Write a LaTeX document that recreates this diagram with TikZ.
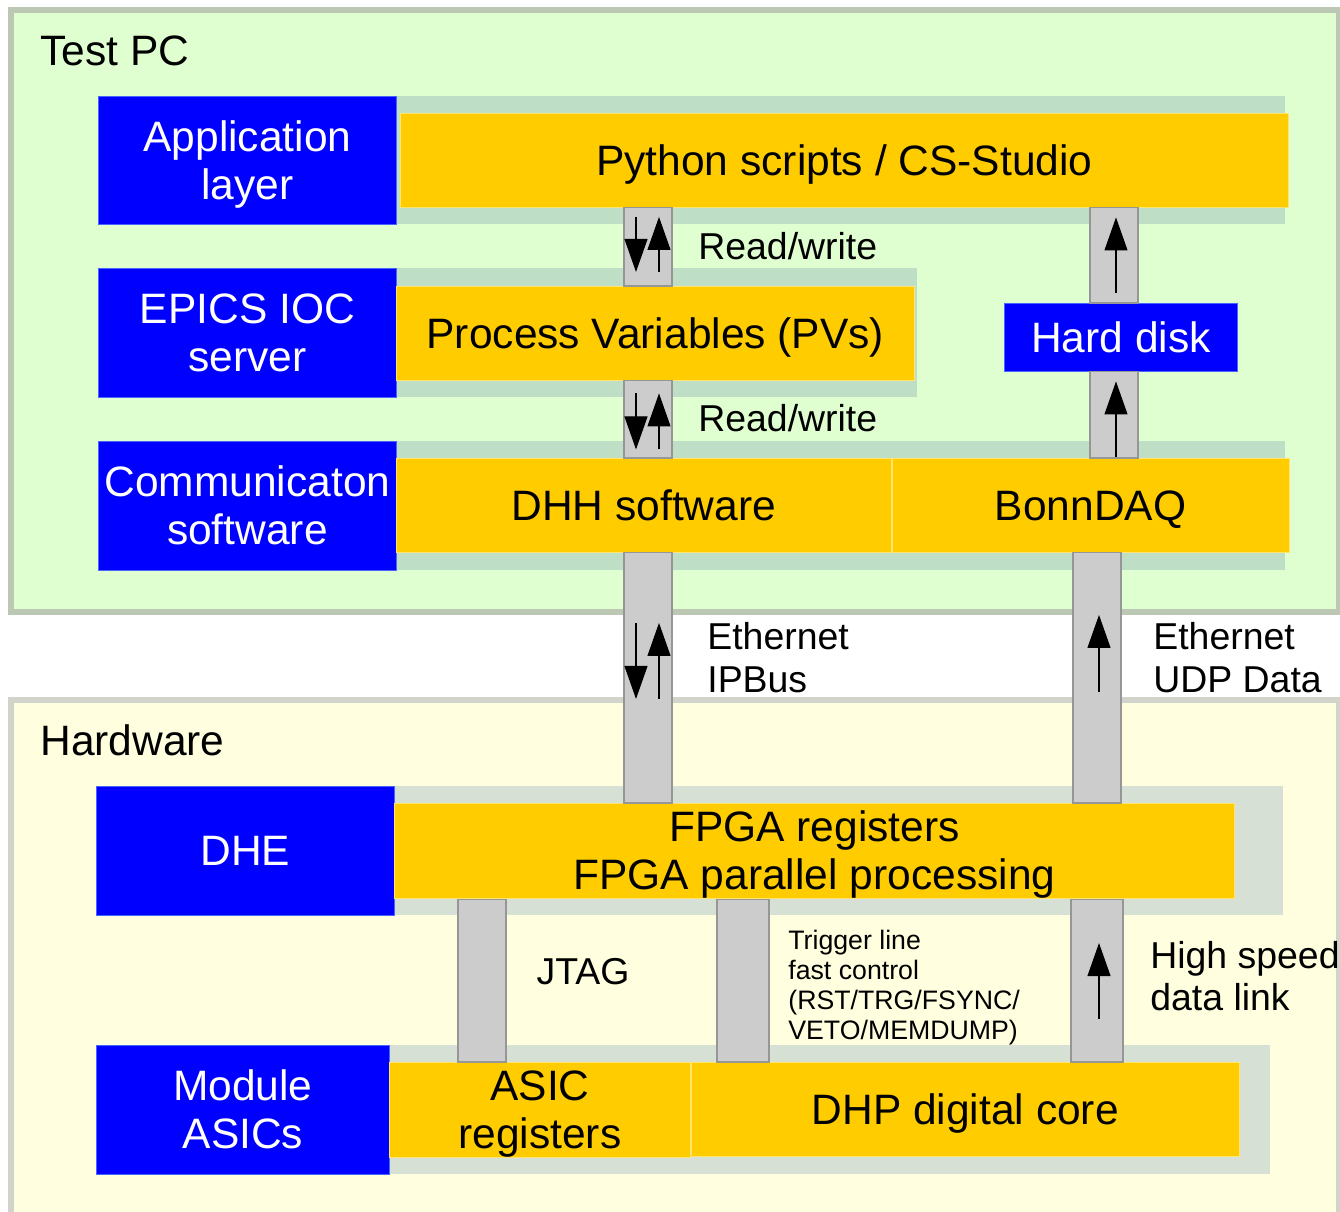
\documentclass[tikz,border=0pt]{standalone}
\usepackage{fontspec}
\setmainfont{Liberation Sans}
\usetikzlibrary{arrows.meta, calc, fit}
\definecolor{pcgreen}{RGB}{224,255,208}
\definecolor{pcborder}{RGB}{188,200,180}
\definecolor{pcband}{RGB}{190,222,198}
\definecolor{hwyellow}{RGB}{255,255,224}
\definecolor{hwborder}{RGB}{210,212,204}
\definecolor{hwband}{RGB}{215,224,213}
\definecolor{levelblue}{RGB}{0,0,255}
\definecolor{leveledge}{RGB}{70,100,255}
\definecolor{swyellow}{RGB}{255,204,0}
\definecolor{swedge}{RGB}{255,228,110}
\definecolor{busfill}{RGB}{204,204,204}
\definecolor{busedge}{RGB}{150,150,150}
\newcommand{\boxfont}{\fontsize{24.2}{27.2}\selectfont}
\newcommand{\notefont}{\fontsize{21.3}{24.2}\selectfont}
\newcommand{\tinyfont}{\fontsize{15.2}{17}\selectfont}
\newcommand{\linestrut}{\rule[-0.212em]{0pt}{1.117em}}

\begin{document}
\begin{tikzpicture}[x=0.02cm, y=-0.02cm,
  levelbox/.style={fill=levelblue, draw=leveledge, line width=0.5pt, text=white,
    font=\boxfont, align=center, inner sep=0pt, anchor=north west,
    execute at begin node=\linestrut, execute at end node=\linestrut},
  swbox/.style={fill=swyellow, draw=swedge, line width=0.5pt, font=\boxfont,
    align=center, inner sep=0pt, anchor=north west, minimum height=1.88cm,
    execute at begin node=\linestrut, execute at end node=\linestrut},
  busbar/.style={fill=busfill, draw=busedge, line width=0.6pt, inner sep=0pt},
  flowarrow/.style={-{Triangle[length=0.66cm, width=0.46cm]}, line width=0.6pt},
  paneltitle/.style={font=\boxfont, inner sep=0pt, anchor=base west},
  note/.style={font=\notefont, align=left, inner sep=0pt}]
\clip (0,0) rectangle (1340,1212);

% ---- panels ----
\filldraw[fill=pcgreen, draw=pcborder, line width=0.12cm] (11,10) rectangle (1339,612);
\filldraw[fill=hwyellow, draw=hwborder, line width=0.12cm] (11,700) rectangle (1339,1250);

% ---- Test PC ----
\node[paneltitle] (pc) at (40,66) {Test PC};
\node[levelbox, minimum width=5.96cm, minimum height=2.56cm] (app) at (98,96) {\linestrut Application\\layer};
\fill[pcband] (app.north east) rectangle (1285,224);
\node[swbox, minimum width=17.76cm] (py) at (400,113) {Python scripts / CS-Studio};

\node[levelbox, minimum width=5.96cm, minimum height=2.58cm] (epics) at (98,268) {\linestrut EPICS IOC\\server};
\fill[pcband] (epics.north east) rectangle (917,397);
\node[swbox, minimum width=10.36cm] (pv) at (396,286) {Process Variables (PVs)};
\node[levelbox, minimum width=4.66cm, minimum height=1.36cm] (hdd) at (1004,303) {Hard disk};

\node[levelbox, minimum width=5.96cm, minimum height=2.58cm] (comm) at (98,441) {\linestrut Communicaton\\software};
\fill[pcband] (comm.north east) rectangle (1285,570);
\node[swbox, minimum width=9.9cm] (dhh) at (396,458) {DHH software};
\node[swbox, minimum width=7.94cm] (bonn) at (dhh.north east) {BonnDAQ};

% ---- Hardware ----
\node[paneltitle] (hw) at (40,756) {Hardware};
\node[levelbox, minimum width=5.96cm, minimum height=2.58cm] (dhe) at (96,786) {DHE};
\fill[hwband] (dhe.north east) rectangle (1283,915);
\node[swbox, minimum width=16.8cm] (fpga) at (394,803) {\linestrut FPGA registers\\FPGA parallel processing};

\node[levelbox, minimum width=5.86cm, minimum height=2.58cm] (mod) at (96,1045) {\linestrut Module\\ASICs};
\fill[hwband] (mod.north east) rectangle (1270,1174);
\node[swbox, minimum width=6.02cm] (areg) at (389,1062) {\linestrut ASIC\\registers};
\node[swbox, minimum width=10.96cm] (dhp) at (areg.north east) {DHP digital core};

% ---- links ----
\node[busbar, fit={(624,0 |- py.south) (672,0 |- pv.north)}] (rwa) {};
\node[busbar, fit={(624,0 |- pv.south) (672,0 |- dhh.north)}] (rwb) {};
\node[busbar, fit={(1090,0 |- py.south) (1138,0 |- hdd.north)}] (hdup) {};
\node[busbar, fit={(1090,0 |- hdd.south) (1138,0 |- bonn.north)}] (hdlo) {};
\node[busbar, fit={(624,0 |- dhh.south) (672,0 |- fpga.north)}] (ipbus) {};
\node[busbar, fit={(1073,0 |- bonn.south) (1121,0 |- fpga.north)}] (udp) {};
\node[busbar, fit={(458,0 |- fpga.south) (506,0 |- areg.north)}] (jtag) {};
\node[busbar, fit={(717,0 |- fpga.south) (769,0 |- dhp.north)}] (trig) {};
\node[busbar, fit={(1071,0 |- fpga.south) (1123,0 |- dhp.north)}] (hsl) {};

% both ways
\foreach \b/\t/\l in {rwa/-30/55, rwb/-26/56, ipbus/-55/76}{
  \draw[flowarrow] ($(\b.center)+(-12,\t)$) -- ++(0,\l);
  \draw[flowarrow] ($(\b.center)+(11,\t+\l)$) -- ++(0,-\l);
}
% upward only
\foreach \b/\t/\l in {hdup/-38/76, hdlo/-33.5/76, udp/-63/77, hsl/-37.5/76}{
  \draw[flowarrow] ($(\b.center)+(2,\t+\l)$) -- ++(0,-\l);
}

% ---- labels ----
\node[note, anchor=base west] (rwla) at (698,260) {Read/write};
\node[note, anchor=base west] (rwlb) at (698,432) {Read/write};
\node[note, anchor=west] (ipl) at (707,657.5) {Ethernet\\IPBus};
\node[note, anchor=west] (udpl) at (1153,657.5) {Ethernet\\UDP Data};
\node[note] (jtagl) at (583,972) {JTAG};
\node[note, font=\tinyfont, anchor=west] (trigl) at (788,987.5) {Trigger line\\fast control\\(RST/TRG/FSYNC/\\VETO/MEMDUMP)};
\node[note, anchor=west] (hsll) at (1150,976) {High speed\\data link};
\end{tikzpicture}
\end{document}
